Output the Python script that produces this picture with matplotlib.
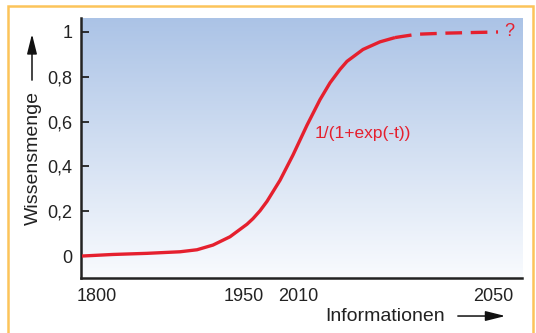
import numpy as np
import matplotlib.pyplot as plt
from matplotlib.colors import LinearSegmentedColormap
from matplotlib.patches import Rectangle

# ---------------- DATA ----------------
# x is a schematic position along the axis (the years are not to scale)
tick_pos = [16, 163, 217, 412]
tick_labels = ["1800", "1950", "2010", "2050"]

y_ticks = [0, 0.2, 0.4, 0.6, 0.8, 1.0]
y_tick_labels = ["0", "0,2", "0,4", "0,6", "0,8", "1"]

# solid part of the curve
known_x = [1, 32, 66, 99, 116, 132, 149, 166, 172, 179, 186, 199, 212, 226,
           239, 249, 259, 266, 282, 299, 314]
known_y = [0.0, 0.007, 0.012, 0.019, 0.028, 0.049, 0.086, 0.142, 0.167, 0.202,
           0.244, 0.338, 0.451, 0.584, 0.698, 0.773, 0.833, 0.869, 0.922, 0.956, 0.975]

# dashed forecast
future_x = [314, 321, 336, 366, 396, 417]
future_y = [0.975, 0.98, 0.99, 0.995, 0.998, 1.0]

formula = "1/(1+exp(-t))"
RED = "#e5202e"
# --------------------------------------

plt.rcParams["font.family"] = ["Liberation Sans", "DejaVu Sans"]

fig = plt.figure(figsize=(5.36, 3.33), dpi=100)
ax = fig.add_axes([0.1511, 0.1652, 0.8228, 0.7808])

ax.set_xlim(0, 441)
ax.set_ylim(-0.098, 1.0625)

# blue gradient background
cmap = LinearSegmentedColormap.from_list("bg", ["#f9fbfe", "#abc3e6"])
grad = np.linspace(0, 1, 256).reshape(-1, 1)
ax.imshow(grad, cmap=cmap, origin="lower", aspect="auto",
          extent=[0, 441, -0.098, 1.0625], zorder=0)

ax.plot(known_x, known_y, color=RED, lw=2.4, solid_capstyle="butt",
        solid_joinstyle="round", zorder=3)
ax.plot(future_x, future_y, color=RED, lw=2.4, dashes=(5, 2.6), zorder=3)

ax.text(234, 0.549, formula, color=RED, fontsize=12.5, va="center", ha="left")
ax.text(423, 1.0, "?", color=RED, fontsize=13, va="center", ha="left")

for s in ["top", "right"]:
    ax.spines[s].set_visible(False)
for s in ["left", "bottom"]:
    ax.spines[s].set_linewidth(1.8)
    ax.spines[s].set_color("#222222")

ax.set_yticks(y_ticks)
ax.set_yticklabels(y_tick_labels)
ax.set_xticks(tick_pos)
ax.set_xticklabels(tick_labels)
ax.tick_params(axis="y", direction="in", length=6, width=1.3, pad=6,
               labelsize=13, colors="#222222")
ax.tick_params(axis="x", length=0, pad=7, labelsize=13, colors="#222222")

# axis labels with arrows, drawn in figure coordinates
fig.text(0.0616, 0.527, "Wissensmenge", rotation=90, ha="center", va="center",
         fontsize=14, color="#222222")
ax.annotate("", xy=(0.0597, 0.906), xytext=(0.0597, 0.751), xycoords="figure fraction",
            arrowprops=dict(arrowstyle="-|>,head_length=1.2,head_width=0.3",
                            color="#111111", lw=1.1))
fig.text(0.719, 0.051, "Informationen", ha="center", va="center",
         fontsize=14, color="#222222")
ax.annotate("", xy=(0.948, 0.051), xytext=(0.849, 0.051), xycoords="figure fraction",
            arrowprops=dict(arrowstyle="-|>,head_length=1.2,head_width=0.3",
                            color="#111111", lw=1.1))

# orange frame around the whole graphic
frame = Rectangle((0.0149, -0.05), 0.9795, 1.032, transform=fig.transFigure,
                  fill=False, edgecolor="#fcc45a", lw=1.8, clip_on=False)
fig.patches.append(frame)

fig.savefig("out.png", dpi=100)
